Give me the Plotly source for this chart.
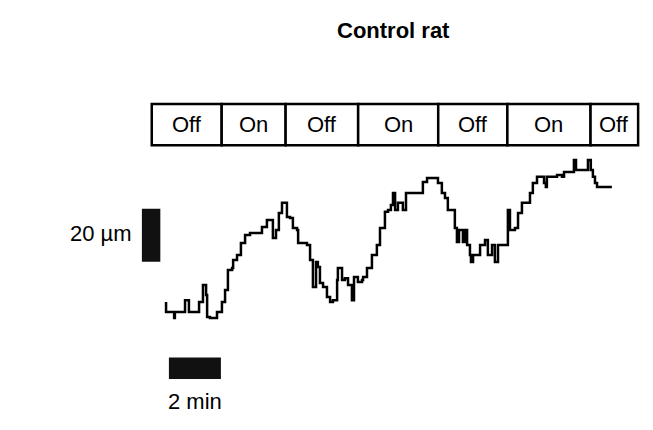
import plotly.graph_objects as go

# trace of vessel displacement, control rat
time_min = [
    0.04, 0.04, 0.31, 0.35, 0.38, 0.69, 0.77, 0.92, 1.27, 1.31, 1.46, 1.58, 1.62, 1.73, 2.00,
    2.00, 2.19, 2.31, 2.42, 2.58, 2.62, 2.77, 2.92, 3.08, 3.19, 3.27, 3.65, 3.73, 3.92, 4.08,
    4.15, 4.27, 4.38, 4.50, 4.62, 4.69, 4.81, 4.92, 5.08, 5.12, 5.46, 5.58, 5.69, 5.81, 5.88,
    5.96, 6.08, 6.23, 6.35, 6.46, 6.62, 6.65, 6.81, 6.92, 7.04, 7.19, 7.27, 7.42, 7.58, 7.62,
    7.77, 7.96, 8.15, 8.27, 8.46, 8.58, 8.69, 8.77, 8.85, 8.96, 9.15, 9.27, 9.88, 9.92, 10.08,
    10.38, 10.50, 10.65, 10.77, 10.88, 11.04, 11.15, 11.23, 11.31, 11.46, 11.54, 11.62, 11.73,
    11.77, 11.85, 12.00, 12.12, 12.31, 12.42, 12.58, 12.69, 12.81, 13.15, 13.19, 13.27, 13.46,
    13.58, 13.73, 13.92, 14.04, 14.15, 14.31, 14.50, 14.58, 14.65, 14.69, 15.08, 15.27, 15.35,
    15.58, 15.73, 15.81, 16.23, 16.27, 16.38, 16.46, 16.54, 16.62, 17.19,
]
disp_um = [
    6.8, 3.0, 3.0, 0.8, 3.0, 3.0, 7.5, 3.0, 3.0, 6.8, 13.2, 9.4, 1.1, 0.8, 0.8,
    3.0, 6.8, 11.3, 18.9, 19.6, 22.6, 24.5, 29.1, 32.1, 32.1, 32.8, 32.8, 35.1, 37.7, 37.7,
    30.9, 34.0, 40.4, 44.2, 44.2, 38.9, 38.5, 34.7, 34.0, 29.1, 28.3, 22.6, 12.5, 21.9, 20.0,
    14.0, 12.5, 8.7, 6.8, 7.5, 15.1, 19.6, 15.1, 15.8, 13.2, 7.5, 16.2, 14.3, 15.1, 16.2,
    19.6, 24.5, 28.3, 34.7, 40.8, 41.5, 43.4, 47.9, 41.5, 44.2, 41.5, 47.9, 47.9, 52.1, 53.6,
    53.6, 51.7, 47.9, 46.0, 41.5, 41.5, 34.7, 29.4, 34.0, 29.4, 34.0, 28.3, 24.5,
    21.9, 24.5, 24.5, 28.3, 30.2, 24.5, 28.3, 21.9, 28.3, 28.3, 41.5, 34.0, 34.7,
    40.4, 44.2, 44.2, 47.9, 51.7, 54.0, 54.0, 51.7, 50.2, 54.0, 54.7, 54.0, 55.8,
    55.8, 60.4, 56.6, 56.6, 60.4, 56.6, 54.0, 51.7, 50.2, 50.2,
]

# flow on/off periods (minutes)
flow_edges = [-0.51, 2.18, 4.64, 7.43, 10.51, 13.17, 16.37, 18.2]
flow_labels = ["Off", "On", "Off", "On", "Off", "On", "Off"]

scale_um = 20
scale_min = 2

fig = go.Figure()
fig.add_trace(go.Scatter(
    x=time_min, y=disp_um, mode="lines",
    line=dict(color="black", width=2.5, shape="hv"), hoverinfo="skip", showlegend=False,
))

font = dict(family="Liberation Sans, Arial, sans-serif", color="black")
txt = dict(showarrow=False, yanchor="middle")

# on/off boxes
for x0, x1, lab in zip(flow_edges[:-1], flow_edges[1:], flow_labels):
    fig.add_shape(type="rect", x0=x0, x1=x1, y0=0.681, y1=0.777, yref="paper",
                  line=dict(color="black", width=2.5), fillcolor="white")
    fig.add_annotation(x=(x0 + x1) / 2, y=0.728, yref="paper", text=lab, xanchor="center",
                       font=dict(size=22, **font), **txt)
fig.add_annotation(x=-6.25, y=0.728, yref="paper", text="Flow on/off", xanchor="left",
                   font=dict(size=22, **font), **txt)

# scale bars
fig.add_shape(type="rect", x0=-0.89, x1=-0.18, y0=22.0, y1=22.0 + scale_um,
              line=dict(width=0), fillcolor="#111")
fig.add_annotation(x=-1.2, y=22.0 + scale_um / 2 + 0.7, text=f"{scale_um} µm", xanchor="right",
                   font=dict(size=22, **font), **txt)
fig.add_shape(type="rect", x0=0.15, x1=0.15 + scale_min, y0=0.137, y1=0.187, yref="paper",
              line=dict(width=0), fillcolor="#111")
fig.add_annotation(x=0.15 + scale_min / 2, y=0.086, yref="paper", text=f"{scale_min} min",
                   xanchor="center", font=dict(size=22, **font), **txt)

fig.add_annotation(x=8.8, y=0.948, yref="paper", text="<b>Control rat</b>",
                   xanchor="center", font=dict(size=22, **font), **txt)

fig.update_layout(
    width=653, height=430,
    margin=dict(l=0, r=0, t=0, b=0),
    plot_bgcolor="white", paper_bgcolor="white",
    xaxis=dict(range=[-6.04, 19.08], visible=False, domain=[0, 1]),
    yaxis=dict(range=[-44.5, 117.7], visible=False, domain=[0, 1]),
)
fig.write_html("out.html")
